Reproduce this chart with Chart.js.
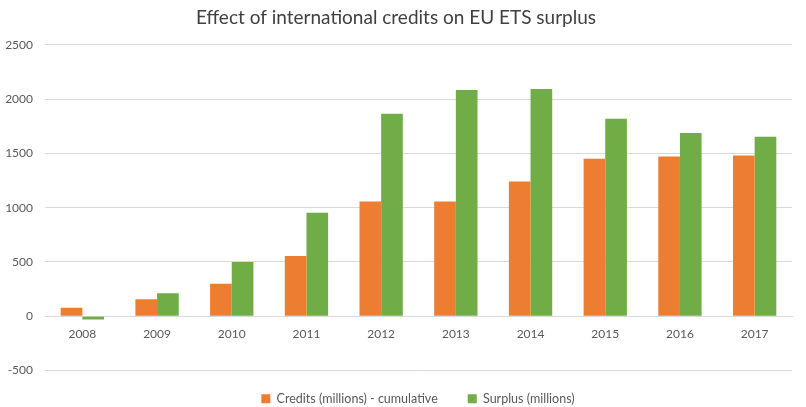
<!DOCTYPE html>
<html>
<head>
<meta charset="utf-8">
<script src="https://cdn.jsdelivr.net/npm/chart.js@4"></script>
<style>
  html, body { margin: 0; padding: 0; background: #fff; }
  #wrap { width: 806px; height: 407px; }
</style>
</head>
<body>
<div id="wrap"><canvas id="ets_chart" width="806" height="407"></canvas></div>
<script>
const years = ["2008", "2009", "2010", "2011", "2012", "2013", "2014", "2015", "2016", "2017"];
const credits = [78, 157, 300, 555, 1056, 1056, 1241, 1450, 1472, 1481];
const surplus = [-30, 212, 500, 952, 1866, 2084, 2093, 1820, 1687, 1654];
const yTicks = [-500, 0, 500, 1000, 1500, 2000, 2500];

const textColor = "#595959";
const gridColor = "#d9d9d9";

Chart.defaults.font.family = "Lato, 'Open Sans', sans-serif";
Chart.defaults.color = textColor;

// move the legend row up and to the right, keeping wide spacing between items
const legendShift = {
  id: "legendShift",
  afterLayout(chart) {
    const lg = chart.legend;
    if (lg) {
      lg.top -= 8;
      lg.bottom -= 8;
      lg.left += 22;
      lg.right += 22;
    }
  },
};

const data = {
  labels: years,
  datasets: [
    {
      label: "Credits (millions) - cumulative",
      data: credits,
      backgroundColor: "#ed7d31",
      categoryPercentage: 0.58,
      barPercentage: 1.0,
    },
    {
      label: "Surplus (millions)",
      data: surplus,
      backgroundColor: "#70ad47",
      categoryPercentage: 0.58,
      barPercentage: 1.0,
    },
  ],
};

const config = {
  type: "bar",
  data: data,
  plugins: [legendShift],
  options: {
    responsive: false,
    animation: false,
    layout: { padding: { left: 0, right: 14, top: 0, bottom: -16 } },
    plugins: {
      title: {
        display: true,
        text: "Effect of international credits on EU ETS surplus",
        color: "#404040",
        font: { size: 19, weight: "normal" },
        padding: { top: 6, bottom: 16 },
      },
      legend: {
        position: "bottom",
        labels: {
          boxWidth: 9,
          boxHeight: 9,
          padding: 30,
          color: textColor,
          font: { size: 12.5 },
        },
      },
      tooltip: { enabled: false },
    },
    scales: {
      x: {
        position: { y: 0 },
        grid: { display: false },
        border: { display: true, color: gridColor },
        ticks: { padding: 3, font: { size: 12 }, color: textColor },
      },
      y: {
        min: -500,
        max: 2500,
        afterBuildTicks: (scale) => {
          scale.ticks = yTicks.map((v) => ({ value: v }));
        },
        afterFit: (scale) => {
          scale.width = 45;
        },
        grid: { color: gridColor, drawTicks: false },
        border: { display: false },
        ticks: {
          padding: 12,
          font: { size: 12 },
          color: textColor,
          callback: (value) => String(value),
        },
      },
    },
  },
};

new Chart(document.getElementById("ets_chart"), config);
</script>
</body>
</html>
